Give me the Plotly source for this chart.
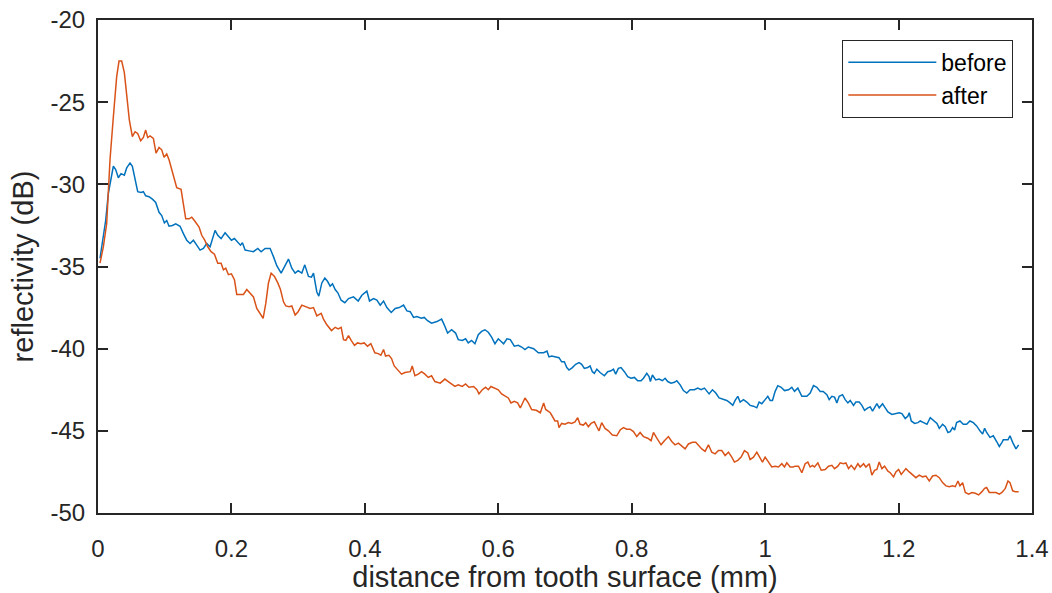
import plotly.graph_objects as go

x_before = [0.003, 0.008, 0.0115, 0.0155, 0.0195, 0.023, 0.0265, 0.0305, 0.0345, 0.0395, 0.043, 0.048,
            0.0515, 0.0555, 0.0595, 0.0645, 0.068, 0.0715, 0.0765, 0.0815, 0.0865, 0.0915, 0.0955, 0.0995,
            0.103, 0.1065, 0.1115, 0.1165, 0.123, 0.128, 0.133, 0.138, 0.143, 0.148, 0.153, 0.158, 0.163,
            0.168, 0.1715, 0.1755, 0.1795, 0.1845, 0.1905, 0.1955, 0.2, 0.2045, 0.2095, 0.2135, 0.2165,
            0.2205, 0.2265, 0.233, 0.2395, 0.2445, 0.2505, 0.258, 0.263, 0.268, 0.2745, 0.2795, 0.2855,
            0.2905, 0.2955, 0.300, 0.3055, 0.310, 0.3155, 0.320, 0.323, 0.328, 0.331, 0.3355, 0.340,
            0.344, 0.348, 0.3515, 0.3555, 0.3595, 0.3645, 0.370, 0.3755, 0.383, 0.390, 0.3955, 0.403,
            0.407, 0.413, 0.418, 0.423, 0.428, 0.433, 0.4395, 0.4455, 0.4515, 0.458, 0.463, 0.468, 0.473,
            0.478, 0.4845, 0.489, 0.494, 0.500, 0.508, 0.515, 0.519, 0.524, 0.530, 0.536, 0.540, 0.546,
            0.551, 0.555, 0.560, 0.565, 0.570, 0.575, 0.580, 0.585, 0.590, 0.595, 0.600, 0.608, 0.613,
            0.618, 0.624, 0.630, 0.635, 0.640, 0.645, 0.653, 0.660, 0.668, 0.673, 0.676, 0.680, 0.685,
            0.691, 0.695, 0.699, 0.7027, 0.706, 0.711, 0.716, 0.721, 0.725, 0.729, 0.734, 0.7376, 0.741,
            0.744, 0.7477, 0.7526, 0.759, 0.764, 0.769, 0.7726, 0.776, 0.780, 0.784, 0.789, 0.794, 0.799,
            0.804, 0.809, 0.814, 0.8176, 0.8226, 0.826, 0.828, 0.831, 0.836, 0.841, 0.846, 0.850, 0.854,
            0.859, 0.864, 0.8676, 0.8726, 0.8775, 0.8826, 0.8875, 0.894, 0.899, 0.904, 0.909, 0.916,
            0.921, 0.926, 0.931, 0.9375, 0.9425, 0.9475, 0.9515, 0.955, 0.959, 0.9625, 0.9675, 0.9725,
            0.9775, 0.9825, 0.9875, 0.991, 0.995, 1.000, 1.004, 1.0075, 1.011, 1.015, 1.019, 1.024, 1.029,
            1.035, 1.040, 1.044, 1.049, 1.055, 1.0625, 1.0675, 1.0725, 1.0775, 1.0825, 1.087, 1.0925,
            1.096, 1.100, 1.104, 1.1075, 1.111, 1.116, 1.120, 1.124, 1.1275, 1.1325, 1.136, 1.141, 1.145,
            1.149, 1.154, 1.1575, 1.161, 1.164, 1.1675, 1.171, 1.176, 1.180, 1.184, 1.190, 1.195, 1.201,
            1.205, 1.210, 1.214, 1.216, 1.219, 1.224, 1.229, 1.2325, 1.2375, 1.2426, 1.2475, 1.2526,
            1.2576, 1.261, 1.266, 1.270, 1.274, 1.2774, 1.281, 1.284, 1.287, 1.292, 1.297, 1.302, 1.307,
            1.312, 1.317, 1.322, 1.326, 1.329, 1.332, 1.337, 1.342, 1.347, 1.351, 1.355, 1.357, 1.364,
            1.367, 1.371, 1.374, 1.376, 1.380]
y_before = [-34.5, -33.2, -32.2, -30.55, -29.55, -28.9, -29.1, -29.6, -29.35, -29.45, -29.0, -28.7,
            -28.9, -29.75, -30.45, -30.5, -30.45, -30.7, -30.75, -30.9, -31.1, -31.7, -31.9, -32.35,
            -32.2, -32.55, -32.5, -32.4, -32.55, -33.0, -33.4, -33.6, -33.4, -33.7, -34.0, -33.9, -33.6,
            -33.8, -33.3, -32.8, -33.1, -33.3, -32.95, -33.2, -33.4, -33.3, -33.5, -33.7, -33.55,
            -34.0, -34.05, -34.1, -33.9, -34.1, -33.9, -33.9, -34.4, -34.95, -35.4, -35.0, -34.55,
            -35.1, -35.4, -35.25, -35.4, -34.9, -35.6, -35.65, -35.4, -36.55, -36.8, -36.0, -35.7,
            -35.9, -36.2, -36.05, -36.4, -36.6, -37.05, -37.2, -36.95, -36.85, -37.1, -36.75, -36.5,
            -37.1, -36.95, -37.05, -37.35, -37.1, -37.5, -37.8, -37.55, -37.5, -37.35, -37.7, -37.75, -38.1,
            -38.05, -38.15, -38.1, -38.3, -38.45, -38.35, -38.2, -38.55, -39.05, -38.85, -39.05, -39.45, -39.5,
            -39.4, -39.65, -39.5, -39.7, -39.15, -38.95, -38.85, -39.0, -39.3, -39.7, -39.4, -39.7, -39.4,
            -39.45, -39.85, -39.8, -39.9, -40.05, -39.9, -40.0, -40.25, -40.25, -40.15, -40.5, -40.45, -40.5,
            -40.55, -40.8, -40.8, -41.15, -41.3, -41.15, -40.95, -40.85, -40.95, -41.2, -41.15, -41.05, -41.4,
            -41.5, -41.25, -41.45, -41.65, -41.4, -41.35, -41.25, -41.55, -41.2, -41.15, -41.4, -41.7, -41.8,
            -41.75, -41.95, -41.95, -41.8, -41.5, -41.7, -42.0, -41.6, -41.9, -41.85, -41.95, -41.8, -42.0,
            -42.1, -42.05, -41.95, -42.2, -42.55, -42.7, -42.5, -42.5, -42.4, -42.5, -42.4, -42.75,
            -42.5, -42.7, -43.0, -43.1, -43.15, -43.3, -43.45, -43.15, -42.9, -43.25, -43.1, -43.25,
            -43.45, -43.5, -43.6, -43.25, -43.35, -43.1, -42.9, -43.15, -43.15, -42.6, -42.25, -42.35, -42.55,
            -42.5, -42.35, -42.6, -42.4, -42.9, -42.9, -42.7, -42.25, -42.35, -42.6, -42.6, -42.8,
            -43.1, -42.9, -42.95, -43.3, -42.9, -42.8, -43.1, -43.3, -43.15, -43.45, -43.25, -43.25, -43.45,
            -43.75, -43.6, -43.55, -43.8, -43.55, -43.35, -43.6, -43.35, -43.6, -43.85, -44.0, -43.95, -43.9,
            -43.95, -44.25, -44.1, -43.9, -44.4, -44.55, -44.5, -44.4, -44.5, -44.6, -44.2, -44.4,
            -44.55, -44.85, -44.6, -44.75, -45.1, -45.05, -44.8, -44.95, -44.5, -44.4, -44.6, -44.6, -44.4,
            -44.5, -44.7, -45.0, -45.2, -44.85, -45.1, -45.4, -45.3, -45.65, -45.95, -45.7, -45.55, -45.55,
            -45.3, -45.7, -45.95, -46.1, -45.85]

x_after = [0.003, 0.008, 0.013, 0.018, 0.023, 0.028, 0.0315, 0.0355, 0.0395, 0.043, 0.047, 0.0515,
           0.0555, 0.0595, 0.064, 0.068, 0.0715, 0.0745, 0.078, 0.083, 0.087, 0.0915, 0.0955, 0.099,
           0.103, 0.1065, 0.1115, 0.118, 0.1245, 0.128, 0.1315, 0.1365, 0.1405, 0.1445, 0.148, 0.1515,
           0.1555, 0.160, 0.1645, 0.1695, 0.1745, 0.1795, 0.1845, 0.188, 0.1915, 0.1955, 0.2, 0.2045,
           0.208, 0.213, 0.218, 0.223, 0.228, 0.233, 0.238, 0.243, 0.2475, 0.2515, 0.2555, 0.2595,
           0.2645, 0.2695, 0.2735, 0.278, 0.2815, 0.2865, 0.2905, 0.2955, 0.300, 0.3055, 0.311, 0.318,
           0.323, 0.328, 0.3345, 0.338, 0.343, 0.348, 0.350, 0.3555, 0.360, 0.3645, 0.368, 0.3715,
           0.3755, 0.3795, 0.3845, 0.389, 0.394, 0.399, 0.404, 0.409, 0.415, 0.420, 0.424, 0.428, 0.431,
           0.436, 0.440, 0.444, 0.449, 0.455, 0.460, 0.468, 0.471, 0.475, 0.480, 0.485, 0.490, 0.495,
           0.500, 0.505, 0.513, 0.520, 0.525, 0.530, 0.535, 0.540, 0.546, 0.551, 0.556, 0.563, 0.568,
           0.571, 0.576, 0.581, 0.585, 0.589, 0.595, 0.600, 0.605, 0.610, 0.615, 0.619, 0.624, 0.629,
           0.633, 0.636, 0.640, 0.645, 0.650, 0.657, 0.663, 0.668, 0.671, 0.678, 0.685, 0.689, 0.691,
           0.695, 0.700, 0.705, 0.710, 0.715, 0.719, 0.7226, 0.7276, 0.731, 0.735, 0.739, 0.744, 0.7477,
           0.751, 0.755, 0.760, 0.765, 0.771, 0.7776, 0.7826, 0.7876, 0.7926, 0.7976, 0.8026, 0.8076,
           0.8126, 0.8176, 0.824, 0.829, 0.8326, 0.8376, 0.844, 0.849, 0.855, 0.860, 0.865, 0.870,
           0.875, 0.880, 0.885, 0.891, 0.896, 0.901, 0.905, 0.910, 0.915, 0.920, 0.925, 0.930, 0.935,
           0.940, 0.945, 0.950, 0.954, 0.959, 0.964, 0.969, 0.974, 0.9775, 0.9825, 0.9875, 0.9925,
           0.996, 1.000, 1.005, 1.010, 1.015, 1.020, 1.025, 1.029, 1.0325, 1.0375, 1.042, 1.045, 1.050,
           1.055, 1.060, 1.064, 1.0675, 1.071, 1.074, 1.079, 1.084, 1.090, 1.095, 1.100, 1.104, 1.109,
           1.1125, 1.1175, 1.121, 1.125, 1.129, 1.134, 1.139, 1.1425, 1.1475, 1.151, 1.156, 1.160,
           1.164, 1.1675, 1.171, 1.175, 1.179, 1.184, 1.1875, 1.1925, 1.196, 1.200, 1.204, 1.2075,
           1.211, 1.216, 1.221, 1.226, 1.231, 1.236, 1.241, 1.246, 1.251, 1.256, 1.261, 1.266, 1.271,
           1.276, 1.281, 1.285, 1.289, 1.292, 1.296, 1.300, 1.305, 1.310, 1.315, 1.320, 1.325, 1.329,
           1.332, 1.336, 1.341, 1.346, 1.351, 1.355, 1.360, 1.364, 1.367, 1.371, 1.375, 1.380]
y_after = [-34.8, -33.8, -32.4, -28.5, -25.9, -23.45, -22.5, -22.5, -23.2, -24.5, -26.1, -27.1,
           -26.8, -26.9, -27.35, -27.15, -26.7, -27.15, -27.05, -27.2, -28.1, -27.75, -27.9, -28.35,
           -28.15, -28.5, -29.3, -30.2, -30.3, -31.15, -32.1, -32.1, -32.0, -32.2, -32.4, -32.6,
           -33.1, -33.4, -33.8, -34.1, -34.25, -34.8, -34.8, -35.2, -35.1, -35.5, -35.45, -35.8,
           -36.7, -36.7, -36.7, -36.4, -36.6, -36.85, -37.55, -37.85, -38.15, -37.25, -36.0, -35.4,
           -35.6, -36.0, -36.4, -37.15, -37.4, -37.45, -37.4, -37.95, -37.75, -37.35, -37.45, -37.55,
           -37.5, -38.0, -37.85, -38.2, -38.55, -38.85, -38.9, -38.7, -38.8, -38.7, -39.45, -39.5,
           -39.2, -39.5, -39.8, -39.65, -39.7, -39.65, -39.85, -39.7, -40.25, -40.3, -40.4, -40.05, -40.45,
           -40.4, -40.6, -41.05, -41.3, -41.55, -41.45, -41.4, -41.05, -41.65, -41.55, -41.4, -41.55, -41.75,
           -41.65, -42.0, -42.1, -41.85, -42.0, -42.15, -42.3, -42.2, -42.3, -42.15, -42.35, -42.3, -42.5,
           -42.75, -42.5, -42.35, -42.5, -42.3, -42.4, -42.5, -42.75, -42.9, -43.0, -43.3, -43.2, -43.3,
           -43.6, -43.35, -43.0, -43.3, -43.7, -43.75, -43.9, -43.3, -43.7, -43.9, -44.4, -44.4, -44.8,
           -44.55, -44.6, -44.5, -44.55, -44.45, -44.2, -44.6, -44.65, -44.5, -44.75, -44.55, -44.45, -44.75,
           -45.0, -44.5, -44.85, -45.0, -45.25, -45.3, -44.95, -44.8, -44.9, -44.9, -45.05, -45.35,
           -45.1, -45.35, -45.45, -45.6, -45.1, -45.45, -45.85, -45.6, -45.35, -45.65, -45.85, -45.75,
           -45.95, -46.1, -45.8, -45.7, -45.7, -45.95, -46.1, -46.25, -45.85, -46.3, -46.4, -46.2, -46.2,
           -46.5, -46.3, -46.6, -46.9, -46.8, -46.6, -46.2, -46.35, -46.75, -46.6, -46.3, -46.7,
           -46.9, -46.6, -46.9, -47.2, -47.15, -47.2, -47.0, -47.2, -46.95, -47.2, -47.2, -47.15, -47.15,
           -47.55, -47.0, -46.9, -47.2, -47.1, -47.2, -46.95, -47.4, -47.35, -47.15, -47.1, -47.3, -47.15,
           -46.95, -47.0, -46.95, -47.3, -47.1, -47.35, -47.0, -47.2, -47.0, -47.2, -47.0, -47.7,
           -47.4, -47.35, -46.9, -47.3, -47.15, -47.45, -47.55, -47.8, -47.5, -47.35, -47.65, -47.5,
           -47.3, -47.5, -47.65, -47.85, -47.7, -47.8, -47.75, -48.05, -47.75, -47.7, -47.85, -48.15, -48.35,
           -48.4, -48.35, -48.4, -48.05, -48.35, -48.15, -48.75, -48.85, -48.75, -48.8, -48.9, -48.7, -48.5,
           -48.45, -48.75, -48.75, -48.75, -48.85, -48.75, -48.5, -48.05, -48.15, -48.65, -48.7, -48.7]

x_ticks = [0, 0.2, 0.4, 0.6, 0.8, 1.0, 1.2, 1.4]
x_tick_labels = ["0", "0.2", "0.4", "0.6", "0.8", "1", "1.2", "1.4"]
y_ticks = [-50, -45, -40, -35, -30, -25, -20]
y_tick_labels = ["-50", "-45", "-40", "-35", "-30", "-25", "-20"]

FONT = "Liberation Sans, Arial, Helvetica, sans-serif"
AX = "#262626"

fig = go.Figure()
fig.add_trace(go.Scatter(x=x_before, y=y_before, mode="lines", name="before", legendgroup="b",
                         line=dict(color="#0072BD", width=1.5)))
fig.add_trace(go.Scatter(x=x_after, y=y_after, mode="lines", name="after", legendgroup="a",
                         line=dict(color="#D95319", width=1.5)))

axis_common = dict(showline=True, linecolor=AX, linewidth=2, mirror="ticks",
                   ticks="inside", ticklen=10, tickwidth=2, tickcolor=AX,
                   showgrid=False, zeroline=False, automargin=False,
                   tickfont=dict(family=FONT, size=24, color=AX))

fig.update_xaxes(range=[0, 1.4], tickvals=x_ticks, ticktext=x_tick_labels,
                 title=dict(text="distance from tooth surface (mm)",
                            font=dict(family=FONT, size=29, color=AX), standoff=12),
                 ticklabelstandoff=13, **axis_common)
fig.update_yaxes(range=[-50, -20], tickvals=y_ticks, ticktext=y_tick_labels,
                 title=dict(text="reflectivity (dB)",
                            font=dict(family=FONT, size=29, color=AX), standoff=8),
                 ticklabelstandoff=6, **axis_common)

fig.update_layout(
    width=1052, height=593,
    margin=dict(l=98, r=20, t=20, b=80),
    plot_bgcolor="white", paper_bgcolor="white",
    legend=dict(x=0.980, y=0.960, xanchor="right", yanchor="top",
                bgcolor="white", bordercolor=AX, borderwidth=1,
                font=dict(family=FONT, size=23, color="black"),
                itemwidth=88, tracegroupgap=0),
)

fig.write_html("out.html")
